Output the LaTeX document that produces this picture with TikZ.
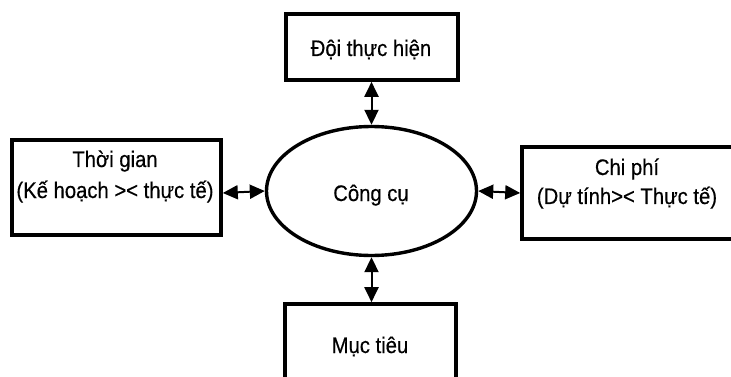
\documentclass[tikz,border=0pt]{standalone}
\usepackage{fontspec}
\setmainfont{Liberation Sans}[FakeStretch=0.9,FakeBold=0.4]
\usetikzlibrary{arrows.meta,shapes.geometric}
\begin{document}
\begin{tikzpicture}[x=1pt,y=-1pt,
  box/.style={draw,line width=3.6pt,rectangle,inner sep=0pt},
  oval/.style={draw,line width=3.4pt,ellipse,inner sep=0pt,minimum width=210pt,minimum height=129pt},
  lbl/.style={inner sep=0pt,anchor=base,font=\fontsize{22.5}{30}\selectfont},
  link/.style={line width=2pt,{Triangle[length=15pt,width=14pt]}-{Triangle[length=15pt,width=14pt]}}]
\useasboundingbox (0,0) rectangle (731,377);
\clip (0,0) rectangle (731,377);
\fill[white] (0,0) rectangle (731,377);
\node[oval] (c) at (371.5,191) {};
\node[box,minimum width=172pt,minimum height=66pt] (t) at (372,47) {};
\node[box,minimum width=209pt,minimum height=95pt] (l) at (116.5,187.5) {};
\node[box,minimum width=212pt,minimum height=92pt] (r) at (628,193) {};
\node[box,minimum width=171pt,minimum height=86pt] (b) at (370.5,347) {};
\node[lbl] (ct) at (371,201) {Công cụ};
\node[lbl] (tt) at (371,56) {Đội thực hiện};
\node[lbl] (lt1) at (115,167) {Thời gian};
\node[lbl] (lt2) at (115,198) {(Kế hoạch >< thực tế)};
\node[lbl] (rt1) at (627,175) {Chi phí};
\node[lbl] (rt2) at (627,204) {(Dự tính>< Thực tế)};
\node[lbl] (bt) at (370,353) {Mục tiêu};
\draw[link] (t.south -| c.north) -- (c.north);
\draw[link] (c.south) -- (c.south |- b.north);
\draw[link] (l.east |- 0,193) -- (c.west);
\draw[link] (c.east) -- (r.west);
\end{tikzpicture}
\end{document}
